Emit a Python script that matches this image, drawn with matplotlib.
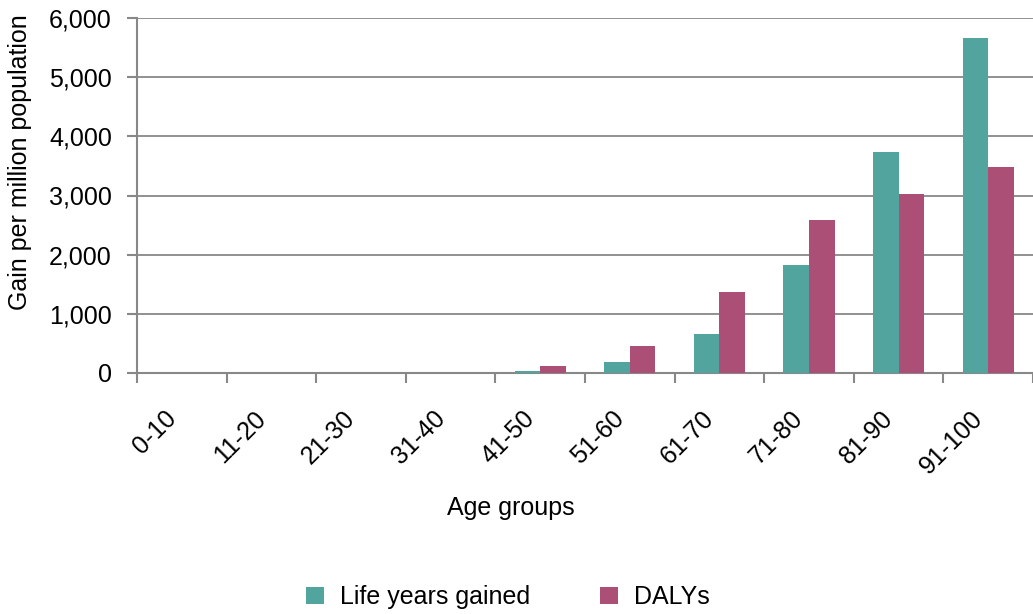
import matplotlib
matplotlib.use("Agg")
import matplotlib.pyplot as plt
import matplotlib.transforms as mtransforms
import numpy as np

plt.rcParams['font.family'] = ['Liberation Sans', 'DejaVu Sans']

categories = ["0-10", "11-20", "21-30", "31-40", "41-50", "51-60", "61-70", "71-80", "81-90", "91-100"]
life_years_gained = [0, 0, 0, 0, 30, 190, 660, 1820, 3730, 5670]
dalys = [0, 0, 0, 0, 110, 450, 1370, 2580, 3030, 3490]
yticks = [0, 1000, 2000, 3000, 4000, 5000, 6000]

teal = "#52A59E"
pink = "#AB4F76"
grid_c = "#888888"
fs = 18

W, H = 1033, 614
fig = plt.figure(figsize=(W / 100, H / 100), dpi=100)
ax = fig.add_axes([137 / W, 1 - 373 / H, (1033 - 137) / W, (373 - 18) / H])

x = np.arange(len(categories))
bw = 0.285
b1 = ax.bar(x - bw / 2, life_years_gained, bw, color=teal, label="Life years gained", zorder=3)
b2 = ax.bar(x + bw / 2, dalys, bw, color=pink, label="DALYs", zorder=3)

ax.set_xlim(-0.5, len(categories) - 0.5)
ax.set_ylim(0, 6000)
ax.set_yticks(yticks)
ax.set_yticklabels([f"{v:,}" for v in yticks])
ax.yaxis.grid(True, color=grid_c, linewidth=1.3, zorder=0)
ax.set_axisbelow(True)

ax.set_xticks(x)
ax.set_xticklabels(categories, rotation=45, ha='right', rotation_mode='anchor')
ax.set_xticks(np.arange(len(categories) + 1) - 0.5, minor=True)
ax.tick_params(axis='x', which='major', length=0, pad=24, labelsize=fs)
ax.tick_params(axis='x', which='minor', length=7, width=1.5, color=grid_c, direction='out')
ax.tick_params(axis='y', length=7, width=1.5, color=grid_c, pad=11, labelsize=fs)

offset = mtransforms.ScaledTranslation(-18 / 100, 0, fig.dpi_scale_trans)
for lab in ax.get_xticklabels():
    lab.set_transform(lab.get_transform() + offset)

for s in ['top', 'right']:
    ax.spines[s].set_visible(False)
ax.spines['left'].set_color(grid_c)
ax.spines['left'].set_linewidth(1.5)
ax.spines['bottom'].set_color(grid_c)
ax.spines['bottom'].set_linewidth(1.5)

fig.text(20 / W, 1 - 162 / H, "Gain per million population", rotation=90,
         ha='center', va='center', fontsize=fs)
fig.text(511 / W, 1 - 508 / H, "Age groups", ha='center', va='center', fontsize=fs)

fig.legend(handles=[b1, b2], loc='center', bbox_to_anchor=(508 / W, 1 - 597 / H),
           ncol=2, frameon=False, fontsize=fs, handlelength=0.7, handleheight=0.7,
           handletextpad=0.65, columnspacing=2.8)

fig.savefig("out.png", dpi=100)
